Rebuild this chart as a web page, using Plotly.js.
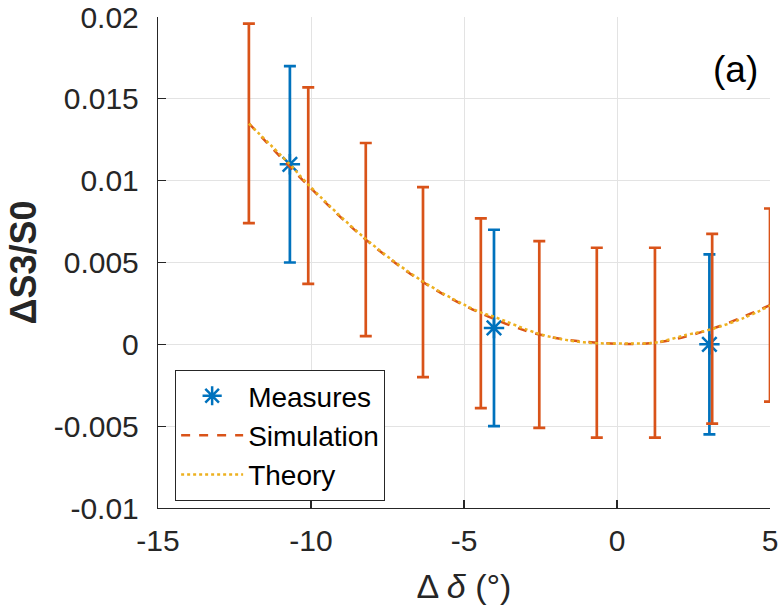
<!DOCTYPE html>
<html>
<head>
<meta charset="utf-8">
<script src="https://cdn.plot.ly/plotly-3.0.1.min.js"></script>
<style>html,body{margin:0;padding:0;background:#fff}#chart{width:778px;height:605px}</style>
</head>
<body>
<div id="chart"></div>
<script>
// Measures
var measX = [-10.69, -4.02, 3.02];
var measY = [0.011, 0.001, 0.0];
var measErr = [0.006, 0.006, 0.0055];

// Simulation
var simX = [-12.03, -10.09, -8.21, -6.34, -4.45, -2.54, -0.66, 1.24, 3.11, 5.0];
var simY = [0.0135, 0.0097, 0.0064, 0.0038, 0.0019, 0.0006, 0.0001, 0.0001, 0.00095, 0.0024];
var simErr = [0.0061, 0.006, 0.0059, 0.0058, 0.0058, 0.0057, 0.0058, 0.0058, 0.0058, 0.0059];

// Theory
var thX = [-12.03, -10.69, -10.09, -8.21, -6.34, -4.53, -4.04, -2.54, -1.54, -0.66, 0.32, 1.24, 2.28, 3.02, 4.13, 5.0];
var thY = [0.01348, 0.01099, 0.00976, 0.00644, 0.00384, 0.00201, 0.0017, 0.00064, 0.00023, 0.00007, 0.00005, 0.0001, 0.00058, 0.00089, 0.0016, 0.00236];

var xTicks = [-15, -10, -5, 0, 5];
var yTicks = [-0.01, -0.005, 0, 0.005, 0.01, 0.015, 0.02];
var yTickText = ['-0.01', '-0.005', '0', '0.005', '0.01', '0.015', '0.02'];

var BLUE = '#0072BD', ORANGE = '#D95319', YELLOW = '#EDB120', AX = '#262626';
var FONT = 'Liberation Sans, Arial, Helvetica, sans-serif';

var traces = [
  {
    x: measX, y: measY, name: 'Measures', type: 'scatter', mode: 'markers',
    marker: {symbol: 'asterisk-open', size: 17, color: BLUE, line: {color: BLUE, width: 2.5}},
    error_y: {type: 'data', array: measErr, visible: true, color: BLUE, thickness: 2.7, width: 6}
  },
  {
    x: simX, y: simY, name: 'Simulation', type: 'scatter', mode: 'lines',
    line: {color: ORANGE, width: 2.5, dash: 'dash', shape: 'spline'},
    error_y: {type: 'data', array: simErr, visible: true, color: ORANGE, thickness: 2.7, width: 6}
  },
  {
    x: thX, y: thY, name: 'Theory', type: 'scatter', mode: 'lines',
    line: {color: YELLOW, width: 2.5, dash: 'dot', shape: 'spline'}
  }
];

var layout = {
  width: 778, height: 605,
  margin: {l: 158, r: 8, t: 17, b: 97},
  paper_bgcolor: '#fff', plot_bgcolor: '#fff',
  font: {family: FONT, color: AX, size: 30},
  showlegend: true,
  xaxis: {
    range: [-15, 5], tickvals: xTicks, ticktext: xTicks.map(String),
    showgrid: true, gridcolor: '#e3e3e3', gridwidth: 1, zeroline: false,
    showline: true, linecolor: AX, linewidth: 1.2, mirror: false,
    ticks: 'inside', ticklen: 8, tickcolor: AX, tickwidth: 1.2,
    tickfont: {family: FONT, size: 30, color: AX}, ticklabelstandoff: 6,
    ticklabeloverflow: 'allow',
    title: {text: 'Δ <i>δ</i> (°)', font: {family: FONT, size: 34, color: AX}, standoff: 18},
    automargin: false
  },
  yaxis: {
    range: [-0.01, 0.02], tickvals: yTicks, ticktext: yTickText,
    showgrid: true, gridcolor: '#e3e3e3', gridwidth: 1, zeroline: false,
    showline: true, linecolor: AX, linewidth: 1.2, mirror: false,
    ticks: 'inside', ticklen: 8, tickcolor: AX, tickwidth: 1.2,
    tickfont: {family: FONT, size: 30, color: AX}, ticklabelstandoff: 12,
    title: {text: '<b>ΔS3/S0</b>', font: {family: FONT, size: 36, color: AX}, standoff: 6},
    automargin: false
  },
  legend: {
    x: 0.028, y: 0.281, xanchor: 'left', yanchor: 'top',
    bgcolor: '#fff', bordercolor: AX, borderwidth: 1,
    font: {family: FONT, size: 28, color: '#000'},
    itemwidth: 62, tracegroupgap: 0
  },
  annotations: [{
    text: '(a)', xref: 'paper', yref: 'paper', x: 0.944, y: 0.893,
    xanchor: 'center', yanchor: 'middle', showarrow: false,
    font: {family: FONT, size: 37, color: '#000'}
  }]
};

Plotly.newPlot('chart', traces, layout, {displayModeBar: false, staticPlot: true});
</script>
</body>
</html>
